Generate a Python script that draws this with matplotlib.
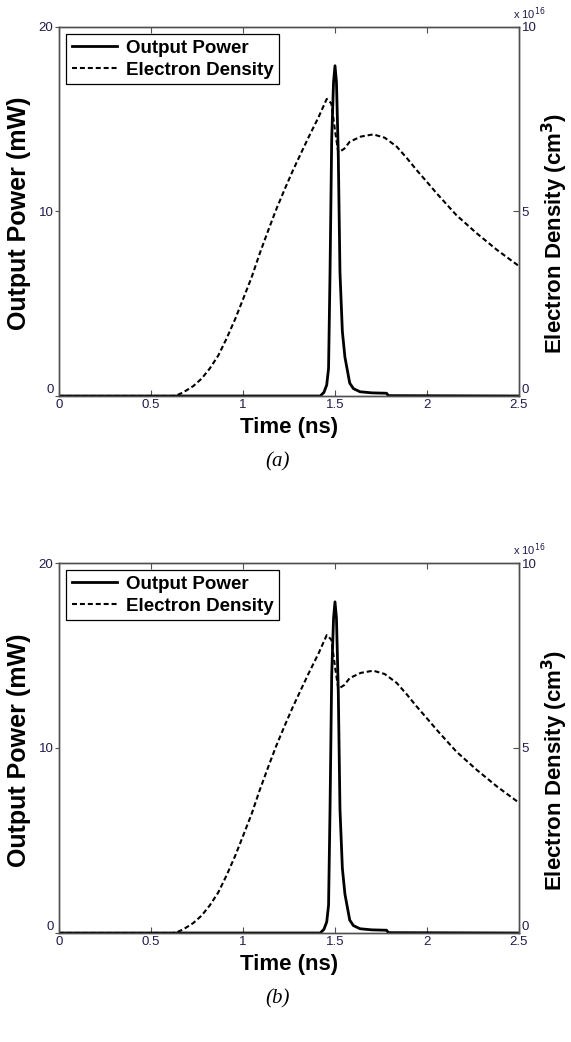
import matplotlib
matplotlib.use("Agg")
import matplotlib.pyplot as plt
import numpy as np

# ---- data ----
time_ed = [0.0, 0.62, 0.64, 0.676, 0.73, 0.775, 0.82, 0.866, 0.91, 0.957, 1.00, 1.047,
           1.09, 1.138, 1.18, 1.228, 1.27, 1.319, 1.36, 1.41, 1.455, 1.48, 1.50, 1.518,
           1.55, 1.58, 1.64, 1.708, 1.77, 1.835, 1.89, 1.944, 2.0, 2.053, 2.16, 2.27,
           2.38, 2.50]
electron_density = [0.0, 0.0, 0.02, 0.10, 0.27, 0.47, 0.75, 1.10, 1.55, 2.08, 2.62, 3.22,
                    3.85, 4.50, 5.05, 5.62, 6.10, 6.62, 7.05, 7.55, 8.05, 7.93, 7.2, 6.60,
                    6.70, 6.89, 7.03, 7.09, 7.00, 6.76, 6.45, 6.12, 5.80, 5.49, 4.90, 4.41,
                    3.96, 3.52]   # x 1e16 cm^-3

time_p = [0.0, 1.42, 1.44, 1.455, 1.465, 1.473, 1.482, 1.492, 1.50, 1.508, 1.518, 1.527,
          1.54, 1.554, 1.58, 1.60, 1.636, 1.70, 1.78, 1.79, 2.50]
output_power = [0.0, 0.0, 0.2, 0.6, 1.5, 6.7, 13.9, 17.0, 17.9, 17.0, 13.0, 6.7,
                3.5, 2.1, 0.7, 0.4, 0.23, 0.17, 0.15, 0.02, 0.0]   # mW

x_ticks = [0, 0.5, 1, 1.5, 2, 2.5]
x_ticklabels = ["0", "0.5", "1", "1.5", "2", "2.5"]
left_ticks = [0, 10, 20]
right_ticks = [0, 5, 10]
captions = ["(a)", "(b)"]

plt.rcParams['font.family'] = ['Liberation Sans', 'DejaVu Sans']

W, H = 571, 1042
fig = plt.figure(figsize=(W / 100, H / 100), dpi=100)

tick_color = '#231a4a'
frame_color = '#505050'

def px(x0, y0, x1, y1):
    return [x0 / W, 1 - y1 / H, (x1 - x0) / W, (y1 - y0) / H]

panels = [(27, 396, 462), (563, 933, 999)]

for (top, bot, cap_y), cap in zip(panels, captions):
    ax = fig.add_axes(px(59, top, 519, bot))
    ax2 = ax.twinx()
    l1, = ax.plot(time_p, output_power, color='black', lw=2.0, label='Output Power')
    l2, = ax2.plot(time_ed, electron_density, color='black', lw=1.5,
                   linestyle=(0, (2.4, 1.4)), label='Electron Density')
    ax.set_xlim(0, 2.5)
    ax.set_ylim(0, 20)
    ax2.set_ylim(0, 10)
    ax.set_xticks(x_ticks)
    ax.set_xticklabels(x_ticklabels)
    ax.set_yticks(left_ticks)
    ax2.set_yticks(right_ticks)
    for a in (ax, ax2):
        for s in a.spines.values():
            s.set_color(frame_color)
            s.set_linewidth(1.0)
    ax.tick_params(axis='x', direction='in', top=True, length=4, width=0.8,
                   color=frame_color, labelsize=9.5, labelcolor=tick_color, pad=2)
    ax.tick_params(axis='y', direction='out', length=3, width=0.8,
                   color=frame_color, labelsize=9.5, labelcolor=tick_color, pad=1)
    ax2.tick_params(axis='y', direction='in', length=4, width=0.8,
                    color=frame_color, labelsize=9.5, labelcolor=tick_color, pad=2)
    ax.get_yticklabels()[0].set_va('bottom')
    ax2.get_yticklabels()[0].set_va('bottom')

    ax.set_xlabel('Time (ns)', fontsize=16, fontweight='bold')
    ax.xaxis.set_label_coords(0.5, -0.058)
    ax.set_ylabel('Output Power (mW)', fontsize=18, fontweight='bold')
    ax.yaxis.set_label_coords(-0.06, 0.495)
    ax2.set_ylabel('Electron Density (cm$^\\mathbf{3}$)', fontsize=16, fontweight='bold')
    ax2.yaxis.set_label_coords(1.045, 0.44)

    leg = ax.legend(handles=[l1, l2], loc='upper left', bbox_to_anchor=(0.015, 0.981),
                    borderaxespad=0, fancybox=False, framealpha=1, edgecolor='black',
                    prop={'weight': 'bold', 'size': 13.5}, handlelength=2.4,
                    handletextpad=0.5, borderpad=0.3, labelspacing=0.25)
    leg.get_frame().set_linewidth(0.9)

    fig.text(513 / W, 1 - (top - 8) / H, 'x 10$^{16}$', fontsize=8, color=tick_color,
             ha='left', va='baseline')
    fig.text(278 / W, 1 - cap_y / H, cap, fontsize=15, family='Liberation Serif',
             style='italic', ha='center', va='center')

fig.savefig('out.png', dpi=100)
